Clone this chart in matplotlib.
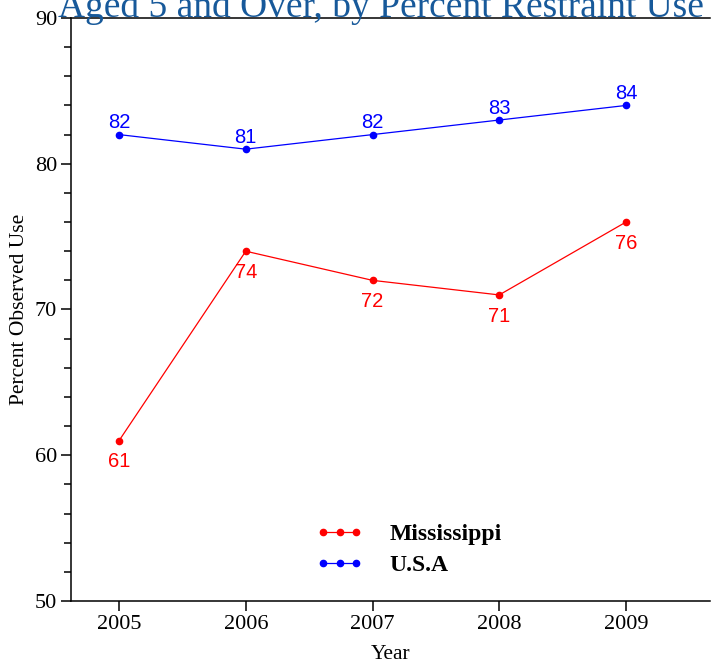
import matplotlib
matplotlib.use("Agg")
import matplotlib.pyplot as plt
from matplotlib.ticker import MultipleLocator

years = [2005, 2006, 2007, 2008, 2009]
mississippi = [61, 74, 72, 71, 76]
usa = [82, 81, 82, 83, 84]
series_names = ["Mississippi", "U.S.A"]
title = "Aged 5 and Over, by Percent Restraint Use"

W, H = 711, 664
fig = plt.figure(figsize=(W / 100, H / 100), dpi=100)
ax = fig.add_axes([71 / W, 1 - 601 / H, (710 - 71) / W, (601 - 18) / H])

serif = "Liberation Serif"
sans = "Liberation Sans"

ax.plot(years, mississippi, color="red", lw=0.9, marker="o", ms=4.5, label=series_names[0])
ax.plot(years, usa, color="blue", lw=0.9, marker="o", ms=4.5, label=series_names[1])

for x, y in zip(years, usa):
    ax.annotate(str(y), (x, y), xytext=(0, 4.5), textcoords="offset points",
                ha="center", va="baseline", color="blue", fontsize=14.5, family=sans)
for x, y in zip(years, mississippi):
    ax.annotate(str(y), (x, y), xytext=(0, -8.5), textcoords="offset points",
                ha="center", va="top", color="red", fontsize=14.5, family=sans)

ax.set_xlim(2004.621, 2009.663)
ax.set_ylim(50, 90)
ax.set_xticks(years)
ax.yaxis.set_major_locator(MultipleLocator(10))
ax.yaxis.set_minor_locator(MultipleLocator(2))
ax.tick_params(axis="both", which="major", direction="out", length=7, width=1.1,
               labelsize=16, pad=3)
ax.tick_params(axis="y", which="minor", direction="out", length=5, width=1.1)
for lab in ax.get_xticklabels() + ax.get_yticklabels():
    lab.set_family(serif)

for s in ["left", "bottom", "top"]:
    ax.spines[s].set_linewidth(1.1)
ax.spines["right"].set_visible(False)

ax.set_xlabel("Year", family=serif, fontsize=15.5, labelpad=8)
ax.set_ylabel("Percent Observed Use", family=serif, fontsize=15.5, labelpad=4)

fig.text(381 / W, 1 - 17 / H, title, ha="center", va="baseline",
         family=serif, fontsize=27, color="#17599a")

ax.legend(loc="center left", bbox_to_anchor=(316 / W, 1 - 550 / H),
          bbox_transform=fig.transFigure, frameon=False, numpoints=3,
          borderpad=0, borderaxespad=0, handlelength=2.0, handletextpad=1.1,
          labelspacing=0.42, prop={"family": serif, "weight": "bold", "size": 17})

fig.savefig("out.png", dpi=100)
